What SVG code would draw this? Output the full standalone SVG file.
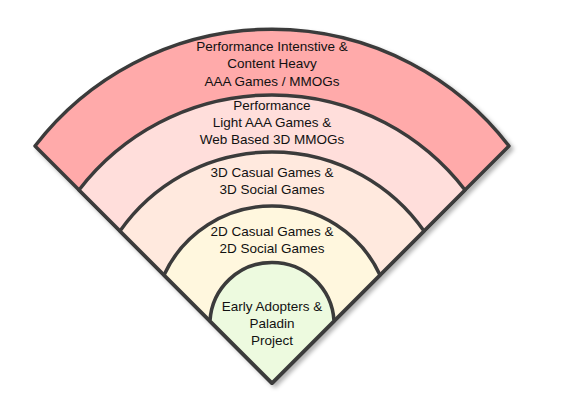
<svg xmlns="http://www.w3.org/2000/svg" width="562" height="409" viewBox="0 0 562 409">
  <defs>
    <filter id="shadow" x="-10%" y="-10%" width="125%" height="125%">
      <feDropShadow dx="3" dy="3" stdDeviation="2" flood-color="#000" flood-opacity="0.3"/>
    </filter>
  </defs>
  <style>
    .band { stroke: #3b3b3b; stroke-width: 3.5; stroke-linejoin: round; }
    .lbl { font-family: "Liberation Sans", Arial, sans-serif; font-size: 13.5px; fill: #111111; text-anchor: middle; }
  </style>
  <rect width="562" height="409" fill="#ffffff"/>
  <g id="band1">
    <path class="band" filter="url(#shadow)" fill="#FFAAAA" d="M272,383 L35,146 A299,299 0 0 1 509,146 Z"/>
    <text class="lbl" x="272" y="51">Performance Intenstive &amp;</text>
    <text class="lbl" x="272" y="68">Content Heavy</text>
    <text class="lbl" x="272" y="86">AAA Games / MMOGs</text>
  </g>
  <g id="band2">
    <path class="band" fill="#FFDEDB" d="M272,383 L79,190 A243.5,243.5 0 0 1 465,190 Z"/>
    <text class="lbl" x="272" y="110">Performance</text>
    <text class="lbl" x="272" y="127">Light AAA Games &amp;</text>
    <text class="lbl" x="272" y="144">Web Based 3D MMOGs</text>
  </g>
  <g id="band3">
    <path class="band" fill="#FFE9DE" d="M272,383 L120,231 A185.7,185.7 0 0 1 424,231 Z"/>
    <text class="lbl" x="272" y="177">3D Casual Games &amp;</text>
    <text class="lbl" x="272" y="194">3D Social Games</text>
  </g>
  <g id="band4">
    <path class="band" fill="#FFF7DE" d="M272,383 L164,275 A119,119 0 0 1 380,275 Z"/>
    <text class="lbl" x="272" y="236">2D Casual Games &amp;</text>
    <text class="lbl" x="272" y="253">2D Social Games</text>
  </g>
  <g id="band5">
    <path class="band" fill="#EDFADF" d="M272,383 L210,321 A62.1,62.1 0 0 1 334,321 Z"/>
    <text class="lbl" x="272" y="311">Early Adopters &amp;</text>
    <text class="lbl" x="272" y="328">Paladin</text>
    <text class="lbl" x="272" y="345">Project</text>
  </g>
  <g id="connectors"></g>
</svg>
